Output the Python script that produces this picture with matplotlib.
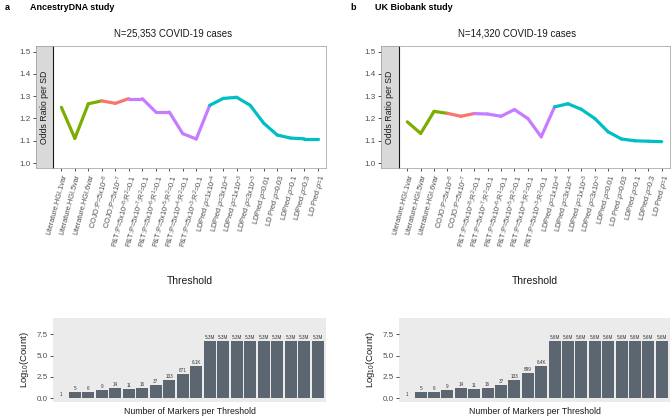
import numpy as np
import matplotlib
matplotlib.use("Agg")
import matplotlib.pyplot as plt

plt.rcParams['font.family'] = ['Liberation Sans', 'DejaVu Sans']
plt.rcParams['mathtext.fontset'] = 'custom'
plt.rcParams['mathtext.rm'] = 'Liberation Sans'
plt.rcParams['mathtext.it'] = 'Liberation Sans:italic'

# ---- data ----
thresholds = [
    "Literature.HGI.1var", "Literature.HGI.5var", "Literature.HGI.6var",
    "COJO:P=5x10$^{-8}$", "COJO:P=5x10$^{-7}$",
    "P&T:P=5x10$^{-8}$;R$^2$=0.1", "P&T:P=5x10$^{-7}$;R$^2$=0.1",
    "P&T:P=5x10$^{-6}$;R$^1$=0.1", "P&T:P=5x10$^{-5}$;R$^2$=0.1",
    "P&T:P=5x10$^{-4}$;R$^2$=0.1", "P&T:P=5x10$^{-3}$;R$^2$=0.1",
    r"LDPred:$\rho$=1x10$^{-4}$", r"LDPred:$\rho$=3x10$^{-4}$",
    r"LDPred:$\rho$=1x10$^{-3}$", r"LDPred:$\rho$=3x10$^{-3}$",
    r"LDPred:$\rho$=0.01", r"LD Pred:$\rho$=0.03", r"LDPred:$\rho$=0.1",
    r"LDPred:$\rho$=0.3", r"LD Pred:$\rho$=1",
]
method = ["Literature"] * 3 + ["COJO"] * 2 + ["P&T"] * 6 + ["LDPred"] * 9

or_ancestry = [1.25, 1.111, 1.266, 1.279, 1.268, 1.289, 1.289, 1.229, 1.229, 1.132, 1.108,
               1.259, 1.290, 1.295, 1.259, 1.179, 1.126, 1.112, 1.109, 1.109]
or_ukb = [1.185, 1.133, 1.232, 1.223, 1.210, 1.222, 1.220, 1.210, 1.240, 1.200, 1.118,
          1.252, 1.266, 1.241, 1.200, 1.140, 1.108, 1.100, 1.098, 1.096]

counts_ancestry = [1, 5, 6, 9, 14, 11, 16, 37, 133, 671, 6100] + [5300000] * 9
counts_ukb = [1, 5, 6, 9, 14, 11, 16, 37, 133, 899, 6400] + [5600000] * 9

method_colors = {"Literature": "#7CAE00", "COJO": "#F8766D",
                 "P&T": "#C77CFF", "LDPred": "#00BFC4"}

W, H = 672, 418
fig = plt.figure(figsize=(W / 100, H / 100), dpi=100)


def px_axes(l, t, r, b):
    return fig.add_axes([l / W, 1 - b / H, (r - l) / W, (b - t) / H])


def fmt_count(c):
    if c >= 1e6:
        return f"{c / 1e6:.1f}M"
    if c >= 1e3:
        return f"{c / 1e3:.1f}K"
    return str(c)


TXT = "#4D4D4D"


def draw_panel(x0, letter, study, title, ors, counts):
    strip_l, panel_l, panel_r = x0, x0 + 17, x0 + 17 + 273 if letter == "a" else x0 + 18 + 271
    if letter == "b":
        panel_l = x0 + 18
    # strip with y ticks
    sax = px_axes(strip_l, 46, panel_l, 168)
    ax = px_axes(panel_l, 46, panel_r, 168)
    ylim = (0.978, 1.525)
    sax.set_facecolor("#D9D9D9")
    sax.set_ylim(*ylim)
    sax.set_xticks([])
    sax.set_yticks([1.0, 1.1, 1.2, 1.3, 1.4, 1.5])
    sax.tick_params(axis="y", labelsize=5.8, colors="#333333", length=2.5, width=0.6,
                    labelcolor=TXT, pad=1.5)
    for s in sax.spines.values():
        s.set_color("#999999")
        s.set_linewidth(0.5)
    sax.text(0.5, 0.5, "Odds Ratio per SD", rotation=90, ha="center", va="center",
             fontsize=6.3, color="#1A1A1A", transform=sax.transAxes)

    x = np.arange(len(ors))
    for i in range(len(ors) - 1):
        ax.plot(x[i:i + 2], ors[i:i + 2], color=method_colors[method[i]], lw=2.3,
                solid_capstyle="round")
    ax.set_xlim(-0.62, len(ors) - 0.38)
    ax.set_ylim(*ylim)
    ax.set_yticks([])
    ax.set_xticks(x)
    ax.set_xticklabels(thresholds, rotation=75, ha="right", va="top",
                       rotation_mode="anchor", fontsize=5.3, color=TXT)
    ax.tick_params(axis="x", length=2.5, width=0.6, colors="#333333", pad=1.5,
                   labelcolor=TXT)
    for k, s in ax.spines.items():
        s.set_color("#AAAAAA")
        s.set_linewidth(0.6)
    ax.spines["left"].set_color("#1A1A1A")
    ax.spines["left"].set_linewidth(0.8)

    # texts
    fig.text((x0 - 31) / W, 1 - 7 / H, letter, fontsize=6.5, fontweight="bold",
             ha="left", va="center")
    fig.text((x0 - 6) / W, 1 - 7 / H, study, fontsize=6.5, fontweight="bold",
             ha="left", va="center")
    fig.text((x0 - 16 + panel_r) / 2 / W, 1 - 33 / H, title, fontsize=7,
             ha="center", va="center", color="#1A1A1A")
    fig.text((panel_l + panel_r) / 2 / W, 1 - 281 / H, "Threshold", fontsize=7.5,
             ha="center", va="center", color="#1A1A1A")

    # bar chart
    bax = px_axes(panel_l, 318, panel_r, 402)
    bax.set_facecolor("#EBEBEB")
    logc = np.log10(counts)
    bax.bar(x, logc, width=0.9, color="#5B6670")
    for xi, v, c in zip(x, logc, counts):
        bax.text(xi, v + 0.12, fmt_count(c), ha="center", va="bottom",
                 fontsize=3.3, color="#333333")
    bax.set_xlim(-0.62, len(ors) - 0.38)
    bax.set_ylim(-0.45, 9.4)
    bax.set_yticks([0.0, 2.5, 5.0, 7.5])
    bax.set_yticklabels(["0.0", "2.5", "5.0", "7.5"])
    bax.set_xticks([])
    bax.tick_params(axis="y", labelsize=5.8, colors="#333333", length=2.5, width=0.6,
                    labelcolor=TXT, pad=1.5)
    for s in bax.spines.values():
        s.set_visible(False)
    bax.set_ylabel("Log$_{10}$(Count)", fontsize=6.8, color="#1A1A1A", labelpad=4)
    fig.text((panel_l + panel_r) / 2 / W, 1 - 411 / H, "Number of Markers per Threshold",
             fontsize=6.3, ha="center", va="center", color="#1A1A1A")


draw_panel(36, "a", "AncestryDNA study", "N=25,353 COVID-19 cases", or_ancestry, counts_ancestry)
draw_panel(381, "b", "UK Biobank study", "N=14,320 COVID-19 cases", or_ukb, counts_ukb)

fig.savefig("out.png", dpi=100)
